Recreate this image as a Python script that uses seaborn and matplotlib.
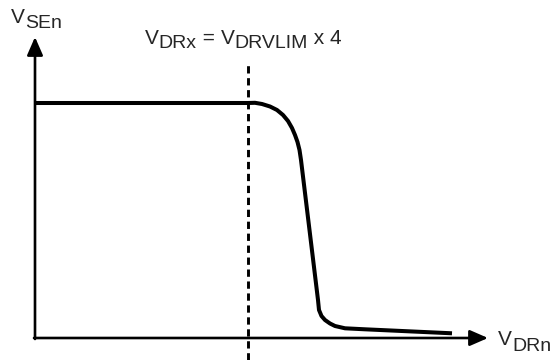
import seaborn as sns
import matplotlib.pyplot as plt

# --- data (units ~ pixels, origin where the axes cross) ---
v_drn = [1, 213, 220, 227, 235, 242, 248, 253, 257, 260, 262.5, 264.5, 266,
         283, 284, 286.5, 290, 295, 300, 310, 330, 417]
v_sen = [235, 235, 235.2, 234, 231.5, 228, 223, 217, 210, 203, 196, 188, 178,
         38, 28, 22, 18, 14.5, 12, 9.7, 8.7, 4.7]
v_drx = 213          # V_DRx = V_DRVLIM x 4
x_axis_end = 453
y_axis_end = 301

sns.set_theme(style="white")
plt.rcParams["font.family"] = ["Liberation Sans", "DejaVu Sans"]

fig = plt.figure(figsize=(5.53, 3.6), dpi=100)
ax = fig.add_axes([0, 0, 1, 1])
ax.set_xlim(-35, 518)
ax.set_ylim(-22, 338)
ax.axis("off")

# axes with arrow heads
arrow = dict(arrowstyle="-|>,head_length=1.1,head_width=0.48", mutation_scale=10,
             color="black", lw=1.9, shrinkA=0, shrinkB=0)
ax.annotate("", xy=(x_axis_end, 0), xytext=(-1, 0), arrowprops=arrow)
ax.annotate("", xy=(0, y_axis_end), xytext=(0, -1), arrowprops=arrow)

# dashed limit line
ax.axvline(v_drx, ymin=0, ymax=(276 + 22) / 360, color="black", lw=2.1,
           dashes=(2.5, 1.6))

# the curve
sns.lineplot(x=v_drn, y=v_sen, sort=False, estimator=None, color="black",
             lw=2.9, ax=ax)
ax.lines[-1].set_solid_capstyle("butt")
ax.lines[-1].set_solid_joinstyle("round")


def rich(x, y, parts):
    prev = None
    for s, size, dy in parts:
        if prev is None:
            prev = ax.text(x, y - dy, s, fontsize=size, va="baseline", ha="left")
        else:
            prev = ax.annotate(s, xy=(1, y - dy), xycoords=(prev, ax.transData),
                               fontsize=size, va="baseline", ha="left")


rich(-24, 315, [("V", 15, 0), ("SEn", 14, 5)])
rich(110, 293.5, [("V", 15, 0), ("DRx", 14, 4), (" = ", 15, 0), ("V", 15, 0),
                  ("DRVLIM", 14, 4), (" x 4", 15, 0)])
rich(463, -7, [("V", 15, 0), ("DRn", 14, 6)])

fig.savefig("out.png", dpi=100)
